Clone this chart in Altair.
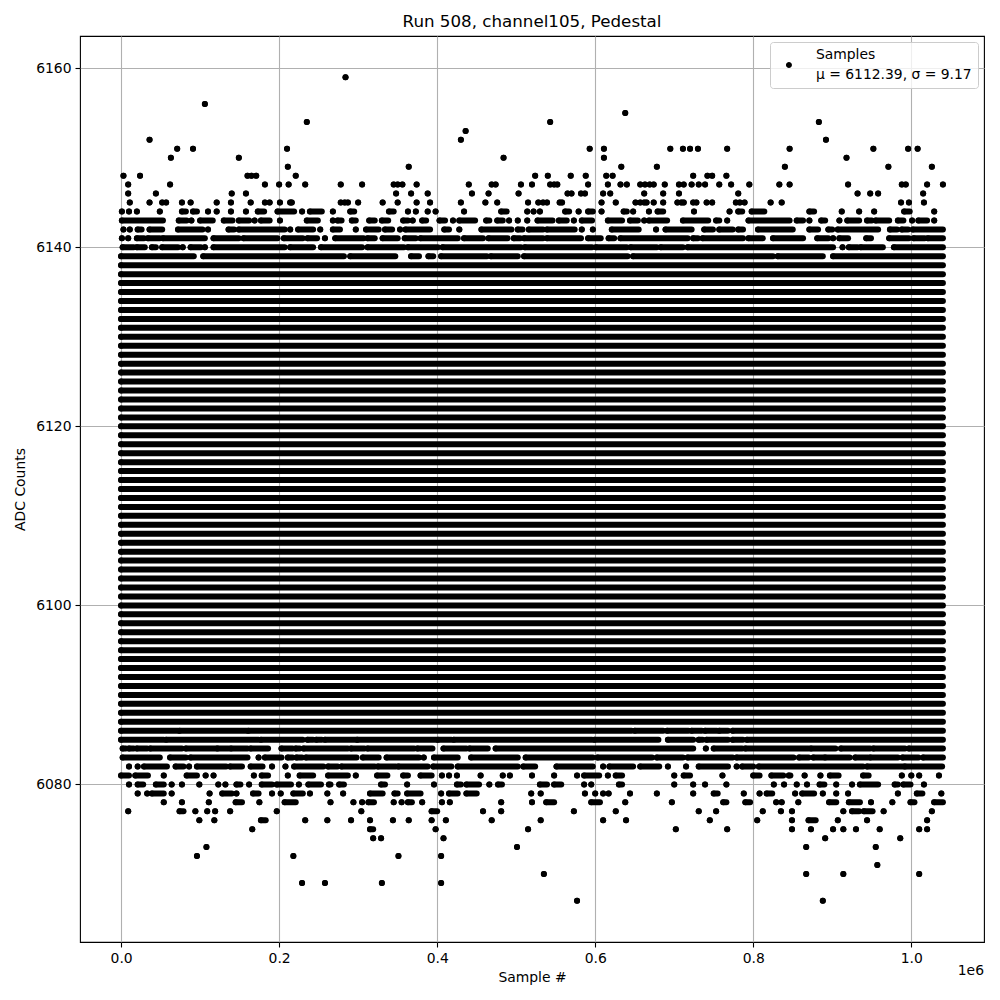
import altair as alt
import pandas as pd

TITLE = "Run 508, channel105, Pedestal"
X_TITLE = "Sample #"
Y_TITLE = "ADC Counts"
LEGEND_LINES = ["Samples", "\u03bc = 6112.39, \u03c3 = 9.17"]
X_OFFSET_TEXT = "1e6"
X_TICKS = [0, 200000, 400000, 600000, 800000, 1000000]
Y_TICKS = [6080, 6100, 6120, 6140, 6160]

# sample numbers below are in thousands of samples
FIRST_SAMPLE_K = 0
LAST_SAMPLE_K = 1040

# ADC levels that are filled over the whole run
solid_levels = [6087, 6088, 6089, 6090, 6091, 6092, 6093, 6094, 6095, 6096,
                6097, 6098, 6099, 6100, 6101, 6102, 6103, 6104, 6105, 6106,
                6107, 6108, 6109, 6110, 6111, 6112, 6113, 6114, 6115, 6116,
                6117, 6118, 6119, 6120, 6121, 6122, 6123, 6124, 6125, 6126,
                6127, 6128, 6129, 6130, 6131, 6132, 6133, 6134, 6135, 6136,
                6137, 6138]

# single samples (k) or runs of samples (start_k, end_k) per ADC level
lvl_6159 = [284]
lvl_6156 = [106]
lvl_6155 = [638]
lvl_6154 = [235, 543, 883]
lvl_6153 = [436]
lvl_6152 = [36, 430, 892]
lvl_6151 = [71, 91, 210, 593, 611, 695, 711, 720, 730, 767, 846, 952, 996, 1008]
lvl_6150 = [63, 149, 484, 611, 918]
lvl_6149 = [211, 364, 633, 678, 840, 971, 1026]
lvl_6148 = [3, 24, 160, 165, 171, 221, 524, 540, 569, 588, 614, 622, 724, 742, 748, 766]
lvl_6147 = [9, 62, 182, 200, 212, 233, 278, 305, 345, 350, 356, 374, 440, 469, 474,
            506, 520, 543, 548, 552, 591, 616, 632, 640, 657, 663, 669, 674, 688, 706,
            712, 722, 731, 739, 757, 772, 795, 833, 846, 920, 988, 993, 1020, 1040]
lvl_6146 = [9, 44, 140, 158, 348, 367, 388, 444, 465, 503, 565, 570, 582, 587, 610,
            619, 662, 686, 706, 781, 932, 948, 958, 1015]
lvl_6145 = [11, 36, 52, 57, 77, 88, 121, 139, 164, 182, 188, 201, 214, 216, 278, 283,
            287, 300, 331, 350, 374, 391, 430, 461, 476, 515, 528, 534, 539, 555, 558,
            608, 626, 651, 657, 662, 665, 674, 686, 704, 709, 712, 724, 728, 741, 748,
            778, 783, 789, 822, 836, 987, 997, 1016]
lvl_6144 = [1, 10, 20, 49, (77, 82), (91, 96), 110, 121, 139, 158, (173, 181), (198, 219),
            229, (239, 254), 268, (290, 295), (339, 345), 363, 373, 388, 398, 434,
            (481, 488), 514, 522, 530, (562, 567), 579, (591, 597), 608, (636, 640), 648,
            668, (679, 686), 725, 770, (781, 786), (798, 814), (871, 877), 912, 934, 953,
            (991, 998), 1029]
lvl_6143 = [(1, 53), (73, 83), 89, (100, 116), (130, 141), (149, 162), 169, (177, 188),
            201, (235, 249), 268, (274, 279), (292, 297), (314, 321), (330, 338),
            (357, 363), 369, (381, 386), (403, 410), 420, (428, 448), (462, 466),
            (476, 483), 491, 502, 514, (527, 546), (554, 564), 573, (583, 596), (616, 634),
            (644, 654), 662, (668, 691), (711, 743), (753, 757), 767, (794, 846),
            (855, 863), 871, (886, 891), 909, (919, 934), (944, 950), (955, 972),
            (983, 990), 1001, (1009, 1020), 1029]
lvl_6142 = [3, 11, (21, 26), (36, 52), (72, 103), 110, (136, 143), (149, 207), 214,
            (224, 243), 252, (268, 277), 297, (310, 326), (334, 343), 353, (360, 391),
            (409, 415), 428, (456, 494), (502, 508), (516, 534), (539, 574), 583, 597,
            (621, 655), 677, (689, 722), (738, 749), (757, 774), (781, 787), (806, 850),
            (871, 882), (895, 900), (907, 958), (973, 982), (988, 996), (1002, 1040)]
lvl_6141 = [1, 9, (20, 29), (34, 49), (53, 106), (117, 149), (155, 198), (206, 230),
            (236, 248), 258, (271, 307), (312, 321), (331, 350), (359, 373), (379, 426),
            (434, 458), (465, 489), (497, 505), (510, 534), (539, 582), (591, 607),
            (617, 624), (632, 717), (724, 730), (736, 787), (794, 812), (825, 863),
            (881, 895), 901, (909, 920), (943, 949), (972, 997), (1003, 1017), (1021, 1040)]
lvl_6140 = [(2, 16), (20, 30), (39, 44), (52, 72), 78, (88, 101), 106, (117, 207),
            (214, 243), (253, 305), (312, 358), (363, 401), (407, 506), (511, 596),
            (601, 640), (645, 678), (683, 711), (717, 901), 913, (921, 932), (936, 964),
            (978, 1040)]
lvl_6139 = [(0, 92), (104, 282), (290, 347), (367, 377), (389, 395), (405, 463),
            (468, 502), (510, 641), (648, 825), (831, 888), (901, 1040)]
lvl_6086 = [(0, 72), (74, 159), (161, 646), (650, 686), (691, 718), (722, 735),
            (739, 754), (757, 768), (774, 1040)]
lvl_6085 = [(0, 54), (57, 174), (177, 230), (236, 243), (247, 254), (258, 298),
            (299, 399), (401, 418), (421, 596), (599, 680), (692, 724), (731, 736),
            (741, 768), (774, 787), (792, 1040)]
lvl_6084 = [(2, 6), (10, 16), (20, 33), (37, 77), (82, 120), (122, 136), (139, 160),
            (164, 186), (203, 217), (221, 226), (231, 287), (291, 308), (312, 371),
            (375, 394), (408, 437), (441, 464), (474, 724), 740, (750, 786), (790, 870),
            (873, 904), (911, 948), (952, 992), (997, 1040)]
lvl_6083 = [(2, 49), (62, 82), (88, 160), 174, (182, 203), (211, 217), (222, 229),
            (234, 298), (306, 326), (336, 377), 383, (396, 426), (443, 502), (512, 597),
            (603, 672), (678, 711), (717, 774), (779, 851), (858, 870), (876, 889),
            (891, 922), (929, 945), (948, 983), (989, 1009), (1015, 1040)]
lvl_6082 = [10, 21, (29, 58), (69, 79), 86, (96, 133), (138, 153), (164, 179), 191, 208,
            (219, 256), (262, 274), (279, 321), (325, 348), (351, 388), (395, 418),
            (426, 502), (509, 524), (551, 597), 610, (618, 648), (657, 681), 692, 715,
            (731, 768), 779, (786, 800), (807, 939), (944, 990), (992, 1039)]
lvl_6081 = [(0, 10), (18, 34), 54, (83, 96), 107, 117, 168, (178, 186), 211, (226, 243),
            (262, 287), 297, (324, 337), (357, 363), (379, 393), 406, 415, 425, 455, 483,
            492, 520, 548, 577, (586, 605), 616, (626, 634), 700, (712, 720), 761,
            (800, 808), (823, 838), (845, 847), 865, 885, (897, 908), (939, 946), 988,
            1000, 1010, 1035]
lvl_6080 = [10, (21, 28), (44, 54), 64, 77, 99, 123, 132, (146, 151), 162, (178, 191),
            (197, 215), 225, (237, 253), (263, 265), (276, 282), (329, 334), 362, 396,
            (425, 430), (437, 453), 466, (477, 482), (530, 539), (548, 557), 586, 595,
            (630, 634), 700, 724, 739, 766, 826, 839, 855, 868, (884, 890), 905, 925,
            (935, 958), (979, 983), (990, 999), 1016]
lvl_6079 = [21, 33, (39, 54), 64, 112, (128, 140), 146, (167, 174), 191, 202, (218, 230),
            239, 261, 281, (315, 331), (346, 350), (362, 379), 405, (415, 426), (437, 450),
            519, 531, 587, 600, 610, 617, 644, 678, 724, (750, 755), 788, 808, (817, 824),
            853, (862, 877), 888, 905, 920, 983, (1007, 1014), 1038]
lvl_6078 = [54, 77, 111, (145, 153), 175, (207, 221), 265, 294, 305, (313, 320), 345, 355,
            (363, 368), 381, 406, 416, 481, 520, (538, 548), (595, 606), 638, 697,
            (762, 766), (790, 796), 829, 836, 857, (896, 905), (921, 935), 949, 976,
            (999, 1004), (1029, 1040)]
lvl_6077 = [9, (74, 79), 94, 109, 119, 138, 197, 304, (393, 400), 458, 481, 573, 626, 731,
            753, 812, 835, 849, 914, (925, 934), (940, 951), 965, 1026]
lvl_6076 = [99, 118, (177, 183), 233, 261, 291, 315, 344, 364, 393, 411, 469, 531, 610,
            639, 745, 805, 849, (870, 879), 907, 944, 1020]
lvl_6075 = [166, (315, 319), 398, 515, 702, 767, 849, 873, 901, 914, 930, 960, 1010, 1020]
lvl_6074 = [319, 329, 408, 891, 986]
lvl_6073 = [108, 501, 867, 955]
lvl_6072 = [96, 218, 351, 405]
lvl_6071 = [957]
lvl_6070 = [535, 867, 914, 1010]
lvl_6069 = [229, 258, 330, 405]
lvl_6067 = [577, 888]

levels = {
    6159: lvl_6159, 6156: lvl_6156, 6155: lvl_6155, 6154: lvl_6154, 6153: lvl_6153,
    6152: lvl_6152, 6151: lvl_6151, 6150: lvl_6150, 6149: lvl_6149, 6148: lvl_6148,
    6147: lvl_6147, 6146: lvl_6146, 6145: lvl_6145, 6144: lvl_6144, 6143: lvl_6143,
    6142: lvl_6142, 6141: lvl_6141, 6140: lvl_6140, 6139: lvl_6139,
    6086: lvl_6086, 6085: lvl_6085, 6084: lvl_6084, 6083: lvl_6083, 6082: lvl_6082,
    6081: lvl_6081, 6080: lvl_6080, 6079: lvl_6079, 6078: lvl_6078, 6077: lvl_6077,
    6076: lvl_6076, 6075: lvl_6075, 6074: lvl_6074, 6073: lvl_6073, 6072: lvl_6072,
    6071: lvl_6071, 6070: lvl_6070, 6069: lvl_6069, 6067: lvl_6067,
}
for lv in solid_levels:
    levels[lv] = [(FIRST_SAMPLE_K, LAST_SAMPLE_K)]

rows = []
for lv, items in levels.items():
    for it in items:
        s, e = (it, it) if isinstance(it, (int, float)) else it
        rows.append({"adc": lv, "s": s * 1000, "e": e * 1000, "series": "Samples"})
df = pd.DataFrame(rows)

FONT = "DejaVu Sans"
xscale = alt.Scale(domain=[-52000, 1092000], nice=False, zero=False)
yscale = alt.Scale(domain=[6062.4, 6163.6], nice=False, zero=False)

axis_common = dict(
    grid=True, gridColor="#b0b0b0", gridWidth=1.1, domain=False,
    ticks=True, tickColor="black", tickWidth=1.1, tickSize=5,
    labelFont=FONT, labelFontSize=13.9, labelColor="black", labelPadding=4,
    titleFont=FONT, titleFontSize=13.9, titleFontWeight="normal", titleColor="black",
)

x_enc = alt.X("s:Q", scale=xscale, axis=alt.Axis(
    values=X_TICKS, labelExpr="format(datum.value / 1000000, '.1f')",
    title=X_TITLE, titlePadding=6, **axis_common))
y_enc = alt.Y("adc:Q", scale=yscale, axis=alt.Axis(
    values=Y_TICKS, format="d", title=Y_TITLE, titlePadding=8, **axis_common))

rules = alt.Chart(df).mark_rule(color="black", strokeWidth=6, strokeCap="round").encode(
    x=x_enc, x2="e:Q", y=y_enc)

# legend marker: a unit circle drawn a little lower so it sits between the two text lines
LEGEND_SYMBOL = "M -1,3.33 A 1,1 0 1,1 1,3.33 A 1,1 0 1,1 -1,3.33 Z"
legend_expr = "[" + ", ".join("'" + t + "'" for t in LEGEND_LINES) + "]"
points = alt.Chart(df).mark_point(filled=True, shape="circle", size=36, opacity=1).encode(
    x=x_enc, y=y_enc,
    color=alt.Color("series:N", scale=alt.Scale(domain=["Samples"], range=["black"]),
                    legend=alt.Legend(
                        title=None, orient="top-right", offset=6,
                        fillColor="rgba(255,255,255,0.8)", strokeColor="#cccccc",
                        cornerRadius=3, padding=6,
                        symbolType=LEGEND_SYMBOL, symbolSize=36, symbolOpacity=1,
                        symbolStrokeWidth=0, symbolOffset=6, labelOffset=20,
                        labelFont=FONT, labelFontSize=13.9, labelColor="black",
                        labelLimit=400, labelExpr=legend_expr)))

offset_df = pd.DataFrame({"t": [X_OFFSET_TEXT]})
offset_text = alt.Chart(offset_df).mark_text(
    align="right", baseline="middle", font=FONT, fontSize=13.9, color="black"
).encode(text="t:N", x=alt.value(904), y=alt.value(935))

chart = alt.layer(rules, points, offset_text).properties(
    width=904, height=906,
    title=alt.TitleParams(TITLE, font=FONT, fontSize=16.7, fontWeight="normal",
                          color="black", anchor="middle", offset=5),
    autosize=alt.AutoSizeParams(type="none"),
    padding={"left": 72, "top": 28, "right": 8, "bottom": 50},
).configure(style={"guide-label": {"lineHeight": 20}}).configure_view(
    stroke="black", strokeWidth=1.1)

chart.save("out.html", embed_options={"renderer": "svg", "actions": False})
